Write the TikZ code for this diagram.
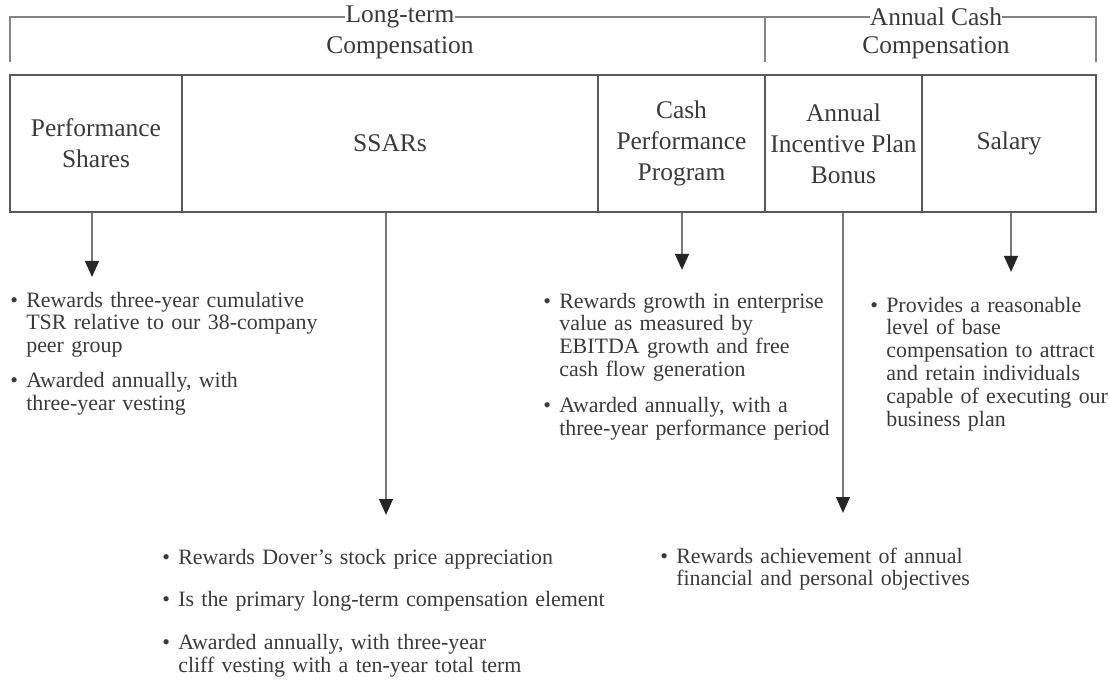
\documentclass[tikz,border=0pt]{standalone}
\usepackage{fontspec}
\setmainfont{Liberation Serif}
\usepackage{tikz}
\usetikzlibrary{arrows.meta,positioning}
\definecolor{pyText}{HTML}{3A3A3A}
\definecolor{pyLine}{HTML}{5A5A5A}
\definecolor{pyBracket}{HTML}{858585}
\definecolor{pyShaft}{HTML}{777777}
\definecolor{pyHead}{HTML}{262626}
\newlength{\pointgap}
\setlength{\pointgap}{0.4cm}
\newcommand{\pointitem}[1]{\noindent\makebox[\pointgap][l]{\textbullet}%
  \parbox[t]{11cm}{\raggedright #1}\par}
\tikzset{
  pay chart/.style={text=pyText, line cap=butt, line join=miter,
    x=0.025cm, y=-0.025cm},
  pay box/.style={draw=pyLine, line width=1.4pt, align=center,
    minimum height=3.425cm, inner sep=0pt,
    font=\fontsize{18.1pt}{22pt}\selectfont},
  pay group/.style={inner sep=0pt, font=\fontsize{18.1pt}{22pt}\selectfont},
  pay bracket/.style={draw=pyBracket, line width=1.1pt},
  pay arrow/.style={draw=pyShaft, line width=1.6pt,
    -{Triangle[length=4mm,width=3.4mm,color=pyHead]}},
  pay points/.style={anchor=base west, inner sep=0pt, align=left,
    text width=12cm, font=\fontsize{15.6pt}{16.3pt}\selectfont}
}
\begin{document}
\begin{tikzpicture}[pay chart]
\useasboundingbox (0,0) rectangle (1109,689);
% group headings and brackets
\node[pay group] (lt) at (400,17) {Long-term};
\node[pay group] (ltsub) at (400,48) {Compensation};
\node[pay group] (ac) at (936,17) {Annual Cash};
\node[pay group] (acsub) at (936,48) {Compensation};
\coordinate (ltfoot) at (10,62);
\coordinate (acsplit) at (765,62);
\coordinate (acfoot) at (1096,62);
\draw[pay bracket] (ltfoot) |- (lt.west);
\draw[pay bracket] (lt.east) -- (ac.west);
\draw[pay bracket] (ac.east) -| (acfoot);
\draw[pay bracket] (acsplit) -- (acsplit |- lt.west);
% compensation elements
\node[pay box, minimum width=4.3cm] (perf) at (96,143.5) {Performance\\Shares};
\node[pay box, minimum width=10.4cm] (ssar) at (390,143.5) {SSARs};
\node[pay box, minimum width=4.175cm] (cpp) at (681.5,143.5) {Cash\\Performance\\Program};
\node[pay box, minimum width=3.925cm] (aip) at (843.5,143.5) {Annual\\Incentive Plan\\Bonus};
\node[pay box, minimum width=4.35cm] (sal) at (1009,143.5) {Salary};
% descriptions
\node[pay points] (perftxt) at (10,307) {%
  \pointitem{Rewards three-year cumulative\\TSR relative to our 38-company\\peer group}
  \vspace{0.325cm}
  \pointitem{Awarded annually, with\\three-year vesting}};
\node[pay points] (ssartxt) at (162,564) {%
  \pointitem{Rewards Dover’s stock price appreciation}
  \vspace{0.5cm}
  \pointitem{Is the primary long-term compensation element}
  \vspace{0.5cm}
  \pointitem{Awarded annually, with three-year\\cliff vesting with a ten-year total term}};
\node[pay points] (cpptxt) at (543,308) {%
  \pointitem{Rewards growth in enterprise\\value as measured by\\EBITDA growth and free\\cash flow generation}
  \vspace{0.35cm}
  \pointitem{Awarded annually, with a\\three-year performance period}};
\node[pay points] (aiptxt) at (660,563) {%
  \pointitem{Rewards achievement of annual\\financial and personal objectives}};
\node[pay points] (saltxt) at (870,312) {%
  \pointitem{Provides a reasonable\\level of base\\compensation to attract\\and retain individuals\\capable of executing our\\business plan}};
% arrows
\coordinate (perftip) at (92,277);
\coordinate (ssartip) at (386,515);
\coordinate (cpptip) at (682,270);
\coordinate (aiptip) at (843,513);
\coordinate (saltip) at (1011,272);
\draw[pay arrow] (perftip |- perf.south) -- (perftip);
\draw[pay arrow] (ssartip |- ssar.south) -- (ssartip);
\draw[pay arrow] (cpptip |- cpp.south) -- (cpptip);
\draw[pay arrow] (aiptip |- aip.south) -- (aiptip);
\draw[pay arrow] (saltip |- sal.south) -- (saltip);
\end{tikzpicture}
\end{document}
